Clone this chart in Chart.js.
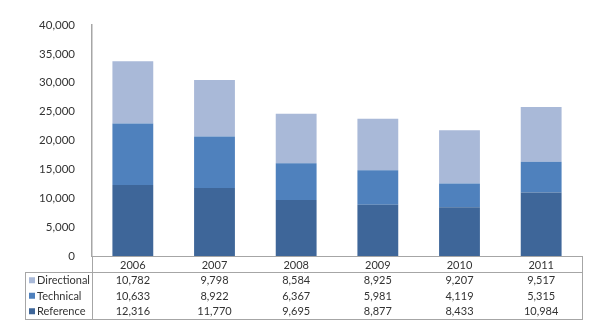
<!DOCTYPE html>
<html lang="en">
<head>
    <meta charset="UTF-8">
    <title>Requests by type</title>
    <script src="https://cdn.jsdelivr.net/npm/chart.js@4.4.1/dist/chart.umd.min.js"></script>
    <style>
        html, body { margin: 0; padding: 0; background: #fff; }
        #wrap { width: 600px; height: 334px; }
    </style>
</head>
<body>
<div id="wrap"><canvas id="chart"></canvas></div>
<script>
    // values
    var years = ['2006', '2007', '2008', '2009', '2010', '2011'];
    var reference = [12316, 11770, 9695, 8877, 8433, 10984];
    var technical = [10633, 8922, 6367, 5981, 4119, 5315];
    var directional = [10782, 9798, 8584, 8925, 9207, 9517];
    var yTicks = [0, 5000, 10000, 15000, 20000, 25000, 30000, 35000, 40000];

    var FONT = "'Century Gothic', Lato, 'DejaVu Sans', sans-serif";
    var colors = {
        Directional: 'rgb(169,185,216)',
        Technical: 'rgb(79,129,189)',
        Reference: 'rgb(62,102,153)'
    };

    // table drawn under the plot, rows top-down like the original
    var tableRows = [
        { name: 'Directional', values: directional },
        { name: 'Technical', values: technical },
        { name: 'Reference', values: reference }
    ];

    var dataTable = {
        id: 'dataTable',
        afterDraw: function (chart) {
            var ctx = chart.ctx;
            var area = chart.chartArea;
            var x = chart.scales.x;
            var top = area.bottom;
            var yearRowH = 16;
            var rowH = 15.5;
            var tableLeft = 25;
            var bottom = top + yearRowH + rowH * 3 + 0.5;

            ctx.save();
            ctx.strokeStyle = '#a6a6a6';
            ctx.lineWidth = 1;
            ctx.beginPath();
            // year row box
            ctx.moveTo(area.left, top + 0.5);
            ctx.lineTo(area.right, top + 0.5);
            ctx.moveTo(area.left + 0.5, top);
            ctx.lineTo(area.left + 0.5, bottom);
            ctx.moveTo(area.right + 0.5, top);
            ctx.lineTo(area.right + 0.5, bottom);
            // data rows box
            ctx.moveTo(tableLeft, top + yearRowH + 0.5);
            ctx.lineTo(area.right, top + yearRowH + 0.5);
            ctx.moveTo(tableLeft + 0.5, top + yearRowH);
            ctx.lineTo(tableLeft + 0.5, bottom);
            ctx.moveTo(tableLeft, bottom + 0.5);
            ctx.lineTo(area.right + 1, bottom + 0.5);
            ctx.stroke();

            ctx.font = '11px ' + FONT;
            ctx.fillStyle = '#333';
            ctx.textBaseline = 'middle';
            ctx.textAlign = 'center';
            years.forEach(function (yr, i) {
                ctx.fillText(yr, x.getPixelForValue(i), top + yearRowH / 2 + 1);
            });

            tableRows.forEach(function (row, r) {
                var cy = top + yearRowH + rowH * r + rowH / 2 + 1;
                ctx.fillStyle = colors[row.name];
                ctx.fillRect(tableLeft + 4, cy - 3.5, 6, 6);
                ctx.fillStyle = '#333';
                ctx.textAlign = 'left';
                ctx.fillText(row.name, tableLeft + 12, cy);
                ctx.textAlign = 'center';
                row.values.forEach(function (v, i) {
                    ctx.fillText(v.toLocaleString('en-US'), x.getPixelForValue(i), cy);
                });
            });
            ctx.restore();
        }
    };

    var ctx = document.getElementById('chart').getContext('2d');
    var chart = new Chart(ctx, {
        type: 'bar',
        data: {
            labels: years,
            datasets: [
                { label: 'Reference', data: reference, backgroundColor: colors.Reference },
                { label: 'Technical', data: technical, backgroundColor: colors.Technical },
                { label: 'Directional', data: directional, backgroundColor: colors.Directional }
            ]
        },
        options: {
            responsive: true,
            maintainAspectRatio: false,
            animation: false,
            layout: { padding: { top: 25, right: 18, bottom: 78, left: 0 } },
            datasets: { bar: { categoryPercentage: 1, barPercentage: 0.5 } },
            plugins: {
                legend: { display: false },
                tooltip: { enabled: false }
            },
            scales: {
                x: {
                    stacked: true,
                    display: false
                },
                y: {
                    stacked: true,
                    min: 0,
                    max: 40000,
                    afterBuildTicks: function (scale) {
                        scale.ticks = yTicks.map(function (v) { return { value: v }; });
                    },
                    afterFit: function (scale) { scale.width = 92; },
                    grid: { display: false },
                    border: { display: true, color: '#a6a6a6', width: 1.5 },
                    ticks: {
                        padding: 9,
                        color: '#333',
                        font: { size: 11.5, family: FONT },
                        callback: function (v) { return v.toLocaleString('en-US'); }
                    }
                }
            }
        },
        plugins: [dataTable]
    });
</script>
</body>
</html>
